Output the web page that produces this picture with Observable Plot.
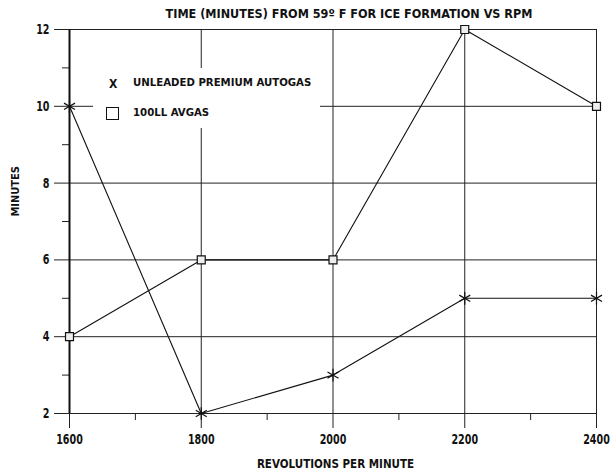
<!DOCTYPE html>
<html>
<head>
<meta charset="utf-8">
<script src="https://cdn.jsdelivr.net/npm/d3@7"></script>
<script src="https://cdn.jsdelivr.net/npm/@observablehq/plot@0.6"></script>
<style>
  html, body { margin: 0; padding: 0; background: #fff; }
  #wrap { position: relative; width: 611px; height: 475px; font-family: "DejaVu Sans Condensed", "DejaVu Sans", sans-serif; font-weight: bold; }
  #legend { position: absolute; left: 93px; top: 68px; width: 227px; height: 60px; background: #fff; font-size: 11.3px; color: #111; }
  #legend .sym { position: absolute; }
  #legend .lab { position: absolute; left: 40px; white-space: nowrap; }
  #legend .box { position: absolute; width: 11px; height: 11px; border: 1.5px solid #111; background: #fff; }
</style>
</head>
<body>
<div id="wrap">
  <div id="chart"></div>
  <div id="legend"></div>
</div>
<script>
const title = "TIME (MINUTES) FROM 59º F FOR ICE FORMATION VS RPM";
const xLabel = "REVOLUTIONS PER MINUTE";
const yLabel = "MINUTES";
const rpm = [1600, 1800, 2000, 2200, 2400];
const autogas = [10, 2, 3, 5, 5];
const avgas = [4, 6, 6, 12, 10];
const seriesNames = ["UNLEADED PREMIUM AUTOGAS", "100LL AVGAS"];
const xMajor = [1600, 1800, 2000, 2200, 2400];
const xMinor = [1700, 1900, 2100, 2300];
const yMajor = [2, 4, 6, 8, 10, 12];
const yMinor = [3, 5, 7, 9, 11];

const autoData = rpm.map((r, i) => ({rpm: r, min: autogas[i]}));
const avData = rpm.map((r, i) => ({rpm: r, min: avgas[i]}));

const font = '"DejaVu Sans Condensed", "DejaVu Sans", sans-serif';

const chart = Plot.plot({
  width: 611,
  height: 475,
  marginLeft: 69,
  marginRight: 15,
  marginTop: 29,
  marginBottom: 62,
  style: {fontFamily: font, fontWeight: "bold", fontSize: "12px", color: "#111", background: "#fff"},
  x: {domain: [1600, 2400]},
  y: {domain: [2, 12]},
  marks: [
    Plot.gridY(yMajor, {stroke: "#222", strokeOpacity: 1, strokeWidth: 1}),
    Plot.gridX(xMajor, {stroke: "#222", strokeOpacity: 1, strokeWidth: 1}),
    Plot.axisY(yMajor, {tickSize: 15, tickPadding: 5, stroke: "#222", tickFormat: d => String(d), label: null}),
    Plot.axisY(yMinor, {tickSize: 7, text: null, label: null, stroke: "#222"}),
    Plot.axisX(xMajor, {tickSize: 15, tickPadding: 6, stroke: "#222", tickFormat: d => String(d), label: null}),
    Plot.axisX(xMinor, {tickSize: 7, text: null, label: null, stroke: "#222"}),
    Plot.ruleX([1600], {stroke: "#111", strokeWidth: 2}),
    Plot.line(autoData, {x: "rpm", y: "min", stroke: "#111", strokeWidth: 1.1}),
    Plot.line(avData, {x: "rpm", y: "min", stroke: "#111", strokeWidth: 1.1}),
    Plot.dot(autoData, {x: "rpm", y: "min", symbol: "asterisk", r: 6, stroke: "#111", strokeWidth: 1.2}),
    Plot.dot(avData, {x: "rpm", y: "min", symbol: "square", r: 4.5, stroke: "#111", fill: "#eee", strokeWidth: 1.2}),
    Plot.text([title], {frameAnchor: "top", text: d => d, lineAnchor: "middle", dy: -15.5, dx: 16, fontSize: 12.5, fill: "#111"}),
    Plot.text([xLabel], {frameAnchor: "bottom", text: d => d, lineAnchor: "middle", dy: 51, dx: 2.5, fontSize: 11.5, fill: "#111"}),
    Plot.text([yLabel], {frameAnchor: "left", text: d => d, lineAnchor: "middle", rotate: -90, dx: -54, dy: -5, fontSize: 11, fill: "#111"})
  ]
});
document.getElementById("chart").appendChild(chart);

// larger, horizontally condensed numeric tick labels to mimic the narrow typeface
Array.from(chart.querySelectorAll("text"))
  .filter(t => /^\d+$/.test(t.textContent.trim()))
  .forEach(t => {
    t.style.fontSize = "14px";
    const w = t.getComputedTextLength();
    if (w > 0) {
      t.setAttribute("textLength", (w * 0.76).toFixed(1));
      t.setAttribute("lengthAdjust", "spacingAndGlyphs");
    }
  });

const legend = document.getElementById("legend");
legend.innerHTML = `
  <span class="sym" style="left:16px; top:9px; font-size:12px;">X</span>
  <span class="lab" style="top:8px;">${seriesNames[0]}</span>
  <span class="box" style="left:13px; top:39px;"></span>
  <span class="lab" style="top:38px;">${seriesNames[1]}</span>
`;
</script>
</body>
</html>
